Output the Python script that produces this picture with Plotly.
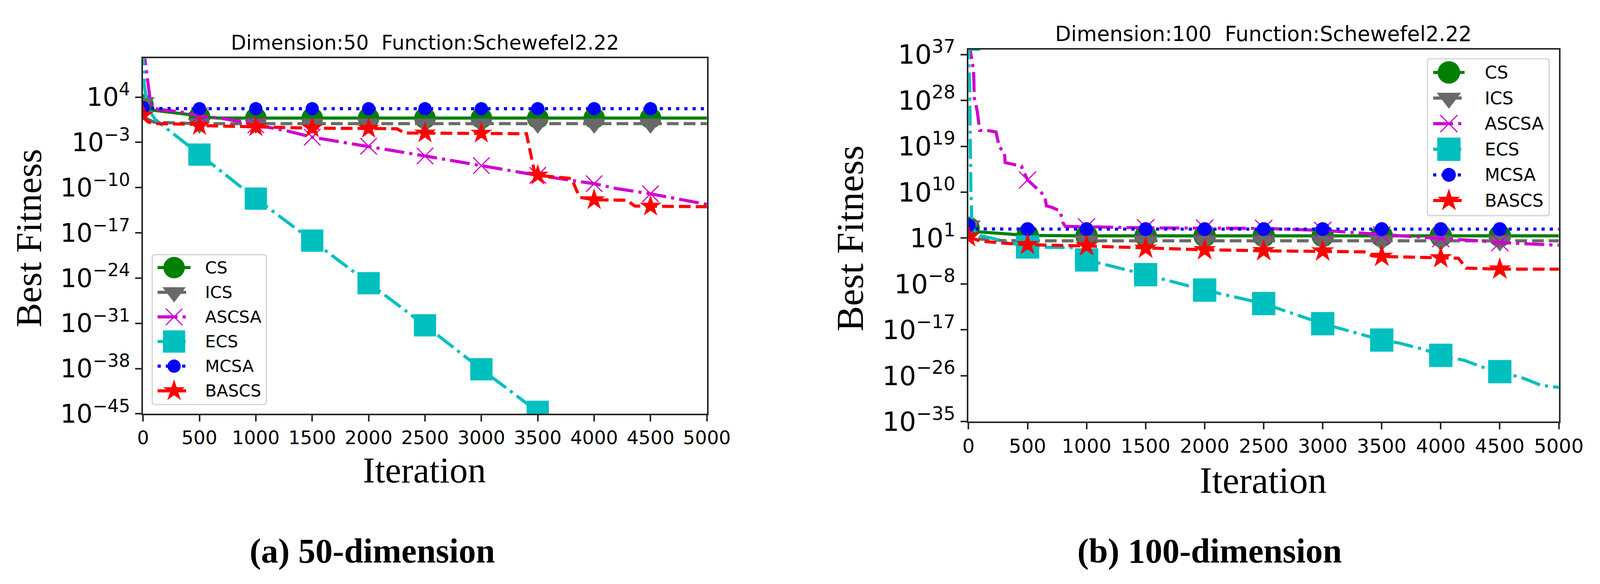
import plotly.graph_objects as go

W, H = 4126, 1495

# ---------------- data ----------------
marker_iters = [0, 500, 1000, 1500, 2000, 2500, 3000, 3500, 4000, 4500]
x_tick_vals = [0, 500, 1000, 1500, 2000, 2500, 3000, 3500, 4000, 4500, 5000]
y_exp_50 = [-45, -38, -31, -24, -17, -10, -3, 4]
y_exp_100 = [-35, -26, -17, -8, 1, 10, 19, 28, 37]
names = ["CS", "ICS", "ASCSA", "ECS", "MCSA", "BASCS"]

# Dimension 50
cs50_it = [0, 30, 95, 410, 500, 660, 1000, 1500, 2000, 2500, 3000, 3500, 4000, 4500, 5000]
cs50 = [6.3e2, 3.2e2, 9.1e1, 2.0e1, 1.0e1, 5.8, 5.8, 5.8, 5.8, 5.8, 5.8, 5.8, 5.8, 5.8, 5.8]

ics50_it = [0, 40, 100, 400, 500, 1000, 1500, 2000, 2500, 3000, 3500, 4000, 4500, 5000]
ics50 = [1.6e3, 4.0, 1.3, 0.79, 0.79, 0.79, 0.79, 0.79, 0.79, 0.79, 0.79, 0.79, 0.79, 0.79]

ascsa50_it = [0, 20, 40, 60, 80, 100, 340, 500, 660, 880, 1000, 1270, 1500, 2000, 2500,
              3000, 3500, 4000, 4200, 4500, 4900, 5000]
ascsa50 = [1e12, 1e9, 1e6, 1e4, 4.0e2, 1.6e2, 5.0e1, 1.3e1, 6.3, 1.6, 5.0e-1, 6.3e-2, 6.3e-3,
           2.5e-4, 7.9e-6, 2.5e-7, 7.9e-9, 4.0e-10, 7.1e-11, 1.1e-11, 5.0e-13, 2.5e-13]

ecs50_it = [0, 10, 30, 60, 110, 500, 1000, 1500, 2000, 2500, 3000, 3500, 3600]
ecs50 = [1e12, 1e6, 3.2e3, 6.3e1, 3.2, 1.3e-5, 2.0e-12, 6.3e-19, 1.6e-25, 5.0e-32, 7.9e-39,
         2.0e-45, 1e-46]

mcsa50_it = [0, 40, 500, 1000, 1500, 2000, 2500, 3000, 3500, 4000, 4500, 5000]
mcsa50 = [2.5e2, 1.8e2, 1.6e2, 1.6e2, 1.6e2, 1.6e2, 1.6e2, 1.6e2, 1.6e2, 1.6e2, 1.6e2, 1.6e2]

bascs50_it = [0, 40, 100, 450, 500, 1000, 1500, 2000, 2250, 2320, 2500, 3000, 3400, 3470,
              3500, 3800, 3870, 4000, 4290, 4360, 4500, 5000]
bascs50 = [1.6e1, 1.6, 7.9e-1, 6.3e-1, 4.0e-1, 2.5e-1, 1.6e-1, 1.4e-1, 1.3e-1, 2.8e-2,
           2.7e-2, 2.5e-2, 2.2e-2, 3.2e-8, 7.9e-9, 2.5e-9, 3.2e-12, 1.3e-12, 1.1e-12,
           1.4e-13, 1.3e-13, 1.1e-13]

# Dimension 100
cs100_it = [0, 50, 100, 500, 1000, 1500, 2000, 2500, 3000, 3500, 4000, 4500, 5000]
cs100 = [1e3, 2.0e2, 1.6e2, 3.2e1, 2.7e1, 2.7e1, 2.7e1, 2.7e1, 2.7e1, 2.7e1, 2.7e1, 2.7e1, 2.7e1]

ics100_it = [0, 30, 100, 300, 500, 1000, 1500, 2000, 2500, 3000, 3500, 4000, 4500, 5000]
ics100 = [2.5e3, 3.2e1, 6.3, 3.2, 2.9, 2.9, 2.9, 2.9, 2.9, 2.9, 2.9, 2.9, 2.9, 2.9]

ascsa100_it = [0, 30, 42, 45, 48, 62, 75, 95, 158, 233, 260, 305, 310, 447, 500, 580, 645,
               660, 700, 776, 800, 820, 1000, 1500, 2000, 2500, 3000, 3300, 3500, 3800,
               4000, 4300, 4500, 4800, 5000]
ascsa100 = [1e40, 7.9e35, 1e34, 2.0e32, 4.0e28, 1.6e27, 5.0e25, 1.3e22, 1.3e22, 6.3e21,
            7.9e18, 5.0e17, 6.3e15, 1.3e15, 2.5e12, 5.0e10, 1.8e9, 2.0e7, 1.2e7, 2.0e6,
            1e4, 2.0e3, 1.6e3, 1e3, 8.9e2, 7.9e2, 3.2e2, 1e2, 4.0e1, 1.6e1, 7.9, 3.2, 1.3,
            6.3e-1, 4.0e-1]

ecs100_it = [0, 10, 20, 30, 100, 500, 900, 1000, 1500, 2000, 2500, 3000, 3500, 3650, 3850,
             4000, 4200, 4400, 4500, 4700, 4850, 5000]
ecs100 = [1e40, 1e30, 1e10, 1e3, 3.2e1, 1.8e-1, 1.3e-1, 5.2e-4, 6.6e-7, 6.3e-10, 1.4e-12,
          1.6e-16, 1e-19, 2.5e-20, 1.6e-21, 1e-22, 1e-23, 2.0e-25, 6.3e-26, 3.2e-27,
          1.3e-28, 5.0e-29]

mcsa100_it = [0, 40, 500, 1000, 1500, 2000, 2500, 3000, 3500, 4000, 4500, 5000]
mcsa100 = [3.2e3, 6.3e2, 5.8e2, 5.8e2, 5.8e2, 5.8e2, 5.8e2, 5.8e2, 5.8e2, 5.8e2, 5.8e2, 5.8e2]

bascs100_it = [0, 100, 300, 500, 1000, 1500, 2000, 2500, 3000, 3350, 3420, 3500, 4000, 4150,
               4215, 4500, 5000]
bascs100 = [1.8e1, 2.5, 1.0, 5.0e-1, 2.8e-1, 1.0e-1, 5.0e-2, 3.2e-2, 2.8e-2, 2.0e-2, 3.2e-3,
            2.5e-3, 1.3e-3, 1.1e-3, 1.3e-5, 7.9e-6, 7.9e-6]

series50 = {"CS": (cs50_it, cs50), "ICS": (ics50_it, ics50), "ASCSA": (ascsa50_it, ascsa50),
            "ECS": (ecs50_it, ecs50), "MCSA": (mcsa50_it, mcsa50), "BASCS": (bascs50_it, bascs50)}
series100 = {"CS": (cs100_it, cs100), "ICS": (ics100_it, ics100), "ASCSA": (ascsa100_it, ascsa100),
             "ECS": (ecs100_it, ecs100), "MCSA": (mcsa100_it, mcsa100), "BASCS": (bascs100_it, bascs100)}

# ---------------- styles ----------------
styles = {
    "CS": dict(color="#008000", dash="solid", symbol="circle", size=55),
    "ICS": dict(color="#696969", dash="30px,13px", symbol="triangle-down", size=52),
    "ASCSA": dict(color="#cf00cf", dash="51px,13px,8px,13px", symbol="x-thin", size=42),
    "ECS": dict(color="#00bfbf", dash="51px,13px,8px,13px", symbol="square", size=57),
    "MCSA": dict(color="#0000ff", dash="8px,13px", symbol="circle", size=34),
    "BASCS": dict(color="#ff0000", dash="30px,13px", symbol="star", size=42),
}
SPINE = "#262626"
SANS = "DejaVu Sans, Verdana, sans-serif"
SERIF = "Liberation Serif, Times New Roman, serif"


def px_x(px):
    return px / W


def px_y(py):
    return 1 - py / H


def marker_dict(name, scale):
    st = styles[name]
    m = dict(symbol=st["symbol"], size=st["size"] * scale, color=st["color"])
    if st["symbol"] == "x-thin":
        m["line"] = dict(color=st["color"], width=3)
    else:
        m["line"] = dict(width=0)
    return m


fig = go.Figure()


def add_panel(series, xa, ya, scale):
    for name in names:
        xs, ys = series[name]
        st = styles[name]
        fig.add_trace(go.Scatter(
            x=xs, y=ys, mode="lines", xaxis=xa, yaxis=ya, showlegend=False,
            line=dict(color=st["color"], width=8, dash=st["dash"]), hoverinfo="skip"))
        mx = [x for x in xs if x in marker_iters]
        my = [y for x, y in zip(xs, ys) if x in marker_iters]
        fig.add_trace(go.Scatter(
            x=mx, y=my, mode="markers", xaxis=xa, yaxis=ya, showlegend=False,
            marker=marker_dict(name, scale), hoverinfo="skip"))


add_panel(series50, "x", "y", 1.0)
add_panel(series100, "x2", "y2", 1.047)

# ---------------- custom legends (drawn in hidden overlay axes, pixel units) ----------------
legend_specs = [
    # xa, ya, box (x0, y0, x1, y1) in figure px, first row offset, row step, line x0, x1, text x, scale
    ("x3", "y3", (371, 639, 673, 1047), 37, 66.4, 16, 102, 138, 1.0),
    ("x4", "y4", (3700, 111, 4022, 538), 39, 69.0, 17, 99, 150, 1.047),
]
shapes = []
annotations = []
for xa, ya, box, r0, rstep, lx0, lx1, tx, sc in legend_specs:
    bw = box[2] - box[0]
    bh = box[3] - box[1]
    for i, name in enumerate(names):
        st = styles[name]
        ry = r0 + i * rstep
        fig.add_trace(go.Scatter(
            x=[lx0, lx1], y=[ry, ry], mode="lines", xaxis=xa, yaxis=ya, showlegend=False,
            line=dict(color=st["color"], width=8, dash=st["dash"]), hoverinfo="skip"))
        fig.add_trace(go.Scatter(
            x=[(lx0 + lx1) / 2], y=[ry], mode="markers", xaxis=xa, yaxis=ya, showlegend=False,
            marker=marker_dict(name, sc), hoverinfo="skip"))
        annotations.append(dict(
            x=tx, y=ry, xref=xa, yref=ya, text=name, showarrow=False, xanchor="left",
            yanchor="middle", font=dict(family=SANS, size=43 * sc, color="#000000")))
    r = 8
    i0 = 2
    path = (f"M {i0 + r},{i0} L {bw - i0 - r},{i0} Q {bw - i0},{i0} {bw - i0},{i0 + r} "
            f"L {bw - i0},{bh - i0 - r} Q {bw - i0},{bh - i0} {bw - i0 - r},{bh - i0} "
            f"L {i0 + r},{bh - i0} Q {i0},{bh - i0} {i0},{bh - i0 - r} "
            f"L {i0},{i0 + r} Q {i0},{i0} {i0 + r},{i0} Z")
    shapes.append(dict(type="path", path=path, xref=xa, yref=ya,
                       line=dict(color="#d6d6d6", width=3.5), layer="above"))

# ---------------- axes ----------------
def x_axis(domain, tick_size):
    return dict(domain=domain, range=[0, 5000], tickvals=x_tick_vals,
                ticktext=[str(v) for v in x_tick_vals], ticks="outside", ticklen=16,
                tickwidth=4, tickcolor=SPINE, showline=True, linewidth=4, linecolor=SPINE,
                mirror=True, showgrid=False, zeroline=False,
                tickfont=dict(family=SANS, size=tick_size, color="#000000"))


def y_axis(domain, exps, rng, tick_size):
    return dict(domain=domain, type="log", range=rng, tickvals=[10.0 ** e for e in exps],
                ticktext=["10<sup>" + str(e).replace("-", "\u2212") + "</sup>" for e in exps],
                ticks="outside", ticklen=16, tickwidth=4, tickcolor=SPINE, showline=True,
                linewidth=4, linecolor=SPINE, mirror=True, showgrid=False, zeroline=False,
                tickfont=dict(family=SANS, size=tick_size, color="#000000"))


layout = dict(
    width=W, height=H, margin=dict(l=0, r=0, t=0, b=0),
    paper_bgcolor="white", plot_bgcolor="white", showlegend=False,
    xaxis=dict(x_axis([px_x(349), px_x(1821)], 48), anchor="y"),
    yaxis=dict(y_axis([px_y(1070), px_y(112)], y_exp_50, [-45, 10], 65), anchor="x"),
    xaxis2=dict(x_axis([px_x(2504), px_x(4045)], 50), anchor="y2"),
    yaxis2=dict(y_axis([px_y(1091), px_y(88)], y_exp_100, [-35, 38], 68), anchor="x2"),
)
for (xa, ya, box, *_rest) in legend_specs:
    n = xa[1:]
    bw = box[2] - box[0]
    bh = box[3] - box[1]
    layout["xaxis" + n] = dict(domain=[px_x(box[0]), px_x(box[2])], range=[0, bw],
                               visible=False, anchor=ya, fixedrange=True)
    layout["yaxis" + n] = dict(domain=[px_y(box[3]), px_y(box[1])], range=[bh, 0],
                               visible=False, anchor=xa, fixedrange=True)

# ---------------- titles, axis labels, captions ----------------
def ann(x, y, text, size, family, angle=0):
    return dict(x=px_x(x), y=px_y(y), xref="paper", yref="paper", text=text, showarrow=False,
                xanchor="center", yanchor="middle", textangle=angle,
                font=dict(family=family, size=size, color="#000000"))


annotations += [
    ann(1085, 70, "Dimension:50\u00a0 Function:Schewefel2.22", 51, SANS),
    ann(3274, 46, "Dimension:100\u00a0 Function:Schewefel2.22", 53, SANS),
    ann(1084, 1222, "Iteration", 93, SERIF),
    ann(3273, 1249, "Iteration", 96, SERIF),
    ann(50, 597, "Best Fitness", 94, SERIF, -90),
    ann(2195, 597, "Best Fitness", 98, SERIF, -90),
    ann(947, 1440, "<b>(a) 50-dimension</b>", 88, SERIF),
    ann(3133, 1440, "<b>(b) 100-dimension</b>", 88, SERIF),
]
layout["annotations"] = annotations
layout["shapes"] = shapes

fig.update_layout(**layout)
fig.write_html("out.html")
